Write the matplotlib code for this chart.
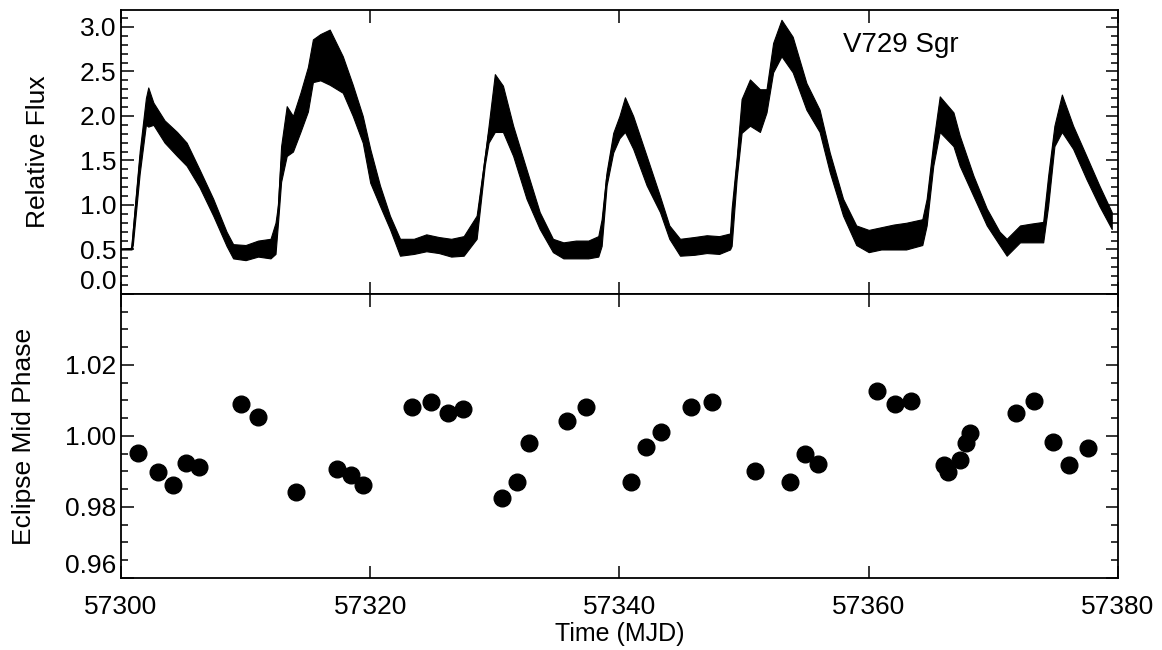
import numpy as np
import matplotlib.pyplot as plt
from matplotlib.ticker import MultipleLocator

plt.rcParams['font.family'] = ['Liberation Sans', 'DejaVu Sans']

lc_time = [57300.00, 57300.85, 57300.95, 57301.50, 57302.00, 57302.19, 57302.60,
           57303.50, 57304.50, 57305.27, 57306.30, 57307.40, 57308.47, 57309.00,
           57310.00, 57311.00, 57312.00, 57312.40, 57312.60, 57312.85, 57313.30,
           57313.80, 57314.40, 57315.00, 57315.40, 57316.00, 57316.75, 57317.80,
           57318.60, 57319.40, 57320.00, 57320.78, 57321.58, 57322.39, 57323.50,
           57324.50, 57325.50, 57326.50, 57327.50, 57328.54, 57329.20, 57329.50,
           57330.00, 57330.65, 57331.47, 57332.54, 57333.60, 57334.66, 57335.50,
           57336.50, 57337.50, 57338.30, 57338.57, 57338.97, 57339.50, 57340.00,
           57340.44, 57341.10, 57342.18, 57343.25, 57344.00, 57344.86, 57346.00,
           57347.00, 57348.00, 57348.87, 57349.00, 57349.40, 57349.80, 57350.47,
           57351.27, 57351.80, 57352.33, 57353.00, 57353.90, 57355.00, 57356.06,
           57356.87, 57357.94, 57359.00, 57360.00, 57361.00, 57362.00, 57363.00,
           57364.30, 57364.65, 57365.18, 57365.70, 57366.80, 57367.30, 57368.40,
           57369.47, 57370.50, 57371.07, 57372.14, 57373.00, 57374.00, 57374.40,
           57374.90, 57375.50, 57376.40, 57377.47, 57378.50, 57379.50]
lc_upper = [0.50, 0.52, 0.72, 1.60, 2.20, 2.32, 2.15,
            1.95, 1.82, 1.70, 1.40, 1.07, 0.70, 0.56,
            0.55, 0.60, 0.62, 0.80, 1.00, 1.66, 2.11,
            2.00, 2.26, 2.55, 2.86, 2.92, 2.97, 2.67,
            2.35, 2.00, 1.63, 1.22, 0.88, 0.62, 0.62,
            0.67, 0.64, 0.62, 0.65, 0.88, 1.55, 1.89,
            2.47, 2.34, 1.89, 1.40, 0.92, 0.62, 0.58,
            0.60, 0.60, 0.65, 0.84, 1.37, 1.81, 2.00,
            2.21, 2.00, 1.55, 1.10, 0.77, 0.62, 0.64,
            0.66, 0.65, 0.68, 0.96, 1.52, 2.19, 2.41,
            2.30, 2.30, 2.82, 3.08, 2.89, 2.37, 2.07,
            1.59, 1.07, 0.77, 0.72, 0.75, 0.78, 0.80,
            0.84, 1.07, 1.70, 2.22, 2.04, 1.78, 1.33,
            0.96, 0.70, 0.62, 0.77, 0.79, 0.81, 1.33,
            1.89, 2.24, 1.89, 1.55, 1.22, 0.92]
lc_lower = [0.50, 0.50, 0.55, 1.35, 1.90, 1.88, 1.90,
            1.70, 1.55, 1.44, 1.20, 0.88, 0.54, 0.40,
            0.38, 0.42, 0.40, 0.45, 0.80, 1.26, 1.55,
            1.60, 1.82, 2.05, 2.38, 2.40, 2.35, 2.26,
            2.00, 1.70, 1.25, 0.99, 0.73, 0.43, 0.45,
            0.48, 0.46, 0.42, 0.43, 0.62, 1.45, 1.70,
            1.82, 1.82, 1.55, 1.07, 0.73, 0.47, 0.40,
            0.40, 0.40, 0.42, 0.54, 1.22, 1.59, 1.75,
            1.82, 1.63, 1.22, 0.92, 0.62, 0.43, 0.44,
            0.46, 0.45, 0.50, 0.54, 1.29, 1.81, 1.89,
            1.82, 2.04, 2.49, 2.67, 2.49, 2.07, 1.82,
            1.37, 0.88, 0.55, 0.47, 0.50, 0.50, 0.50,
            0.55, 0.77, 1.44, 1.82, 1.66, 1.44, 1.10,
            0.77, 0.55, 0.43, 0.58, 0.58, 0.58, 0.99,
            1.66, 1.82, 1.63, 1.29, 0.99, 0.73]

# eclipse mid phase vs time
ecl_time = [57301.34, 57302.94, 57304.15, 57305.22, 57306.28, 57309.65, 57310.99,
            57314.04, 57317.33, 57318.46, 57319.45, 57323.38, 57324.88, 57326.21,
            57327.42, 57330.59, 57331.75, 57332.76, 57335.76, 57337.28, 57340.95,
            57342.12, 57343.30, 57345.74, 57347.45, 57350.87, 57353.68, 57354.86,
            57355.95, 57360.63, 57362.13, 57363.39, 57366.06, 57366.38, 57367.32,
            57367.83, 57368.15, 57371.79, 57373.28, 57374.81, 57376.09, 57377.57]
ecl_phase = [0.9953, 0.9899, 0.9861, 0.9925, 0.9913, 1.0089, 1.0054,
             0.9841, 0.9906, 0.9890, 0.9862, 1.0081, 1.0096, 1.0066,
             1.0076, 0.9825, 0.9870, 0.9981, 1.0042, 1.0082, 0.9870,
             0.9970, 1.0012, 1.0082, 1.0096, 0.9901, 0.9870, 0.9949,
             0.9921, 1.0127, 1.0091, 1.0098, 0.9919, 0.9898, 0.9933,
             0.9979, 1.0008, 1.0066, 1.0098, 0.9982, 0.9919, 0.9966]

fig = plt.figure(figsize=(11.62, 6.5), dpi=100)
ax1 = fig.add_axes([0.1041, 0.5477, 0.858, 0.4369])
ax2 = fig.add_axes([0.1041, 0.1108, 0.858, 0.4369])

lc_t = np.array(lc_time)
up = np.array(lc_upper)
lo = np.array(lc_lower)
ax1.fill_between(lc_t, lo, up, color='black', lw=0.8)
ax1.plot(lc_t, (up + lo) / 2, color='black', lw=1)
ax1.text(0.724, 0.877, 'V729 Sgr', transform=ax1.transAxes, fontsize=20,
         va='center', ha='left')

ax2.plot(ecl_time, ecl_phase, 'o', color='black', markersize=12)

for ax in (ax1, ax2):
    ax.set_xlim(57300, 57380)
    ax.xaxis.set_major_locator(MultipleLocator(20))
    ax.tick_params(which='both', direction='in', top=True, right=True,
                   labelsize=19, width=1.1)
    ax.tick_params(which='major', length=9)
    ax.tick_params(which='minor', length=5)
    for s in ax.spines.values():
        s.set_linewidth(1.3)

ax1.set_ylim(0, 3.19)
ax1.yaxis.set_minor_locator(MultipleLocator(0.1))
ax1.set_yticks([0.0, 0.5, 1.0, 1.5, 2.0, 2.5, 3.0])
ax1.set_yticklabels(['0.0', '0.5', '1.0', '1.5', '2.0', '2.5', '3.0'])
ax1.get_yticklabels()[0].set_va('bottom')
ax1.tick_params(axis='x', labelbottom=False)
ax1.set_ylabel('Relative Flux', fontsize=19)
ax1.yaxis.set_label_coords(-0.0712, 0.5)

ax2.set_ylim(0.96, 1.04)
ax2.set_yticks([0.96, 0.98, 1.00, 1.02, 1.04])
ax2.set_yticklabels(['0.96', '0.98', '1.00', '1.02', ''])
ax2.yaxis.set_minor_locator(MultipleLocator(0.005))
ax2.get_yticklabels()[0].set_va('bottom')
ax2.set_xticks([57300, 57320, 57340, 57360, 57380])
ax2.set_xticklabels(['57300', '57320', '57340', '57360', '57380'])
ax2.tick_params(axis='x', pad=12)
ax2.set_ylabel('Eclipse Mid Phase', fontsize=19)
ax2.yaxis.set_label_coords(-0.0853, 0.5)
ax2.set_xlabel('Time (MJD)', fontsize=18)
ax2.xaxis.set_label_coords(0.5, -0.155)

fig.savefig('out.png', dpi=100)
